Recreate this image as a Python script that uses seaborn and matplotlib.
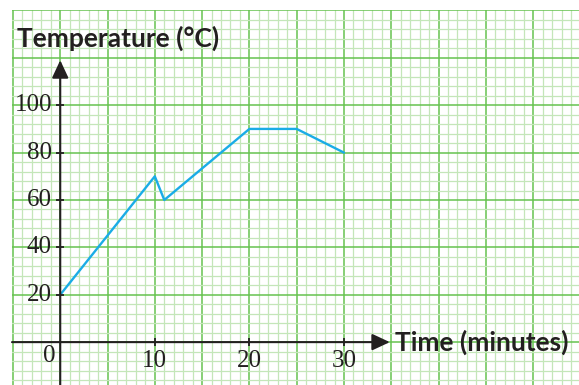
import matplotlib
matplotlib.use("Agg")
import matplotlib.pyplot as plt
import seaborn as sns
import pandas as pd
from matplotlib.ticker import MultipleLocator

# ---- data ----
time_min = [0, 10, 11, 20, 25, 30]
temperature = [20, 70, 60, 90, 90, 80]
x_ticks = [10, 20, 30]
y_ticks = [20, 40, 60, 80, 100]
origin_label = "0"
x_label = "Time (minutes)"
y_label = "Temperature (°C)"

df = pd.DataFrame({"time": time_min, "temp": temperature})

sns.set_theme(style="white")
ink = "#231f20"

fig = plt.figure(figsize=(5.79, 3.85), dpi=100)
fig.patch.set_facecolor("white")
ax = fig.add_axes([12 / 579, 0, 567 / 579, 375 / 385])
ax.set_xlim(-5.1, 54.85)
ax.set_ylim(-18.1, 140.2)

# graph-paper grid
ax.xaxis.set_major_locator(MultipleLocator(5))
ax.xaxis.set_minor_locator(MultipleLocator(1))
ax.yaxis.set_major_locator(MultipleLocator(20))
ax.yaxis.set_minor_locator(MultipleLocator(4))
ax.grid(which="minor", color="#c4e6b9", lw=0.9)
ax.grid(which="major", color="#66c24f", lw=1.1)
ax.tick_params(which="both", length=0, labelbottom=False, labelleft=False)
for s in ax.spines.values():
    s.set_visible(False)
ax.set_axisbelow(True)

# data line
sns.lineplot(data=df, x="time", y="temp", color="#1aace6", lw=1.7, ax=ax, zorder=3)
ax.set_xlabel("")
ax.set_ylabel("")

# axes with arrows
xmin, xmax = ax.get_xlim()
ymin, ymax = ax.get_ylim()
arrow_style = "-|>,head_length=0.9,head_width=0.42"
ax.annotate("", xy=(34.85, 0), xytext=(xmin, 0),
            arrowprops=dict(arrowstyle=arrow_style, color=ink, lw=1.5,
                            mutation_scale=12, shrinkA=0, shrinkB=0), zorder=4)
ax.annotate("", xy=(0, 119), xytext=(0, ymin),
            arrowprops=dict(arrowstyle=arrow_style, color=ink, lw=1.5,
                            mutation_scale=12, shrinkA=0, shrinkB=0), zorder=4)

# tick marks
ax.plot(x_ticks, [0] * len(x_ticks), ls="none", marker="|", ms=5.5, mew=1.3, color=ink, zorder=4)
ax.plot([0] * len(y_ticks), y_ticks, ls="none", marker="_", ms=5.5, mew=1.3, color=ink, zorder=4)

serif = ["Liberation Serif", "DejaVu Serif"]
for t in x_ticks:
    ax.annotate(str(t), (t, 0), xytext=(0, -13.5), textcoords="offset points",
                ha="center", va="center", fontsize=18, family=serif, color=ink)
for t in y_ticks:
    ax.annotate(str(t), (0, t), xytext=(-6, 0), textcoords="offset points",
                ha="right", va="center", fontsize=18, family=serif, color=ink)
ax.annotate(origin_label, (0, 0), xytext=(-8, -10), textcoords="offset points",
            ha="center", va="center", fontsize=18, family=serif, color=ink)

# axis titles
fig.text(17 / 579, 1 - 38 / 385, y_label, ha="left", va="center",
         fontsize=19, fontweight="bold", family=["Lato", "DejaVu Sans"], color=ink)
ax.annotate(x_label, (34.85, 0), xytext=(4, 0), textcoords="offset points",
            ha="left", va="center", fontsize=19, fontweight="bold",
            family=["Lato", "DejaVu Sans"], color=ink)

fig.savefig("out.png", dpi=100, facecolor="white")
